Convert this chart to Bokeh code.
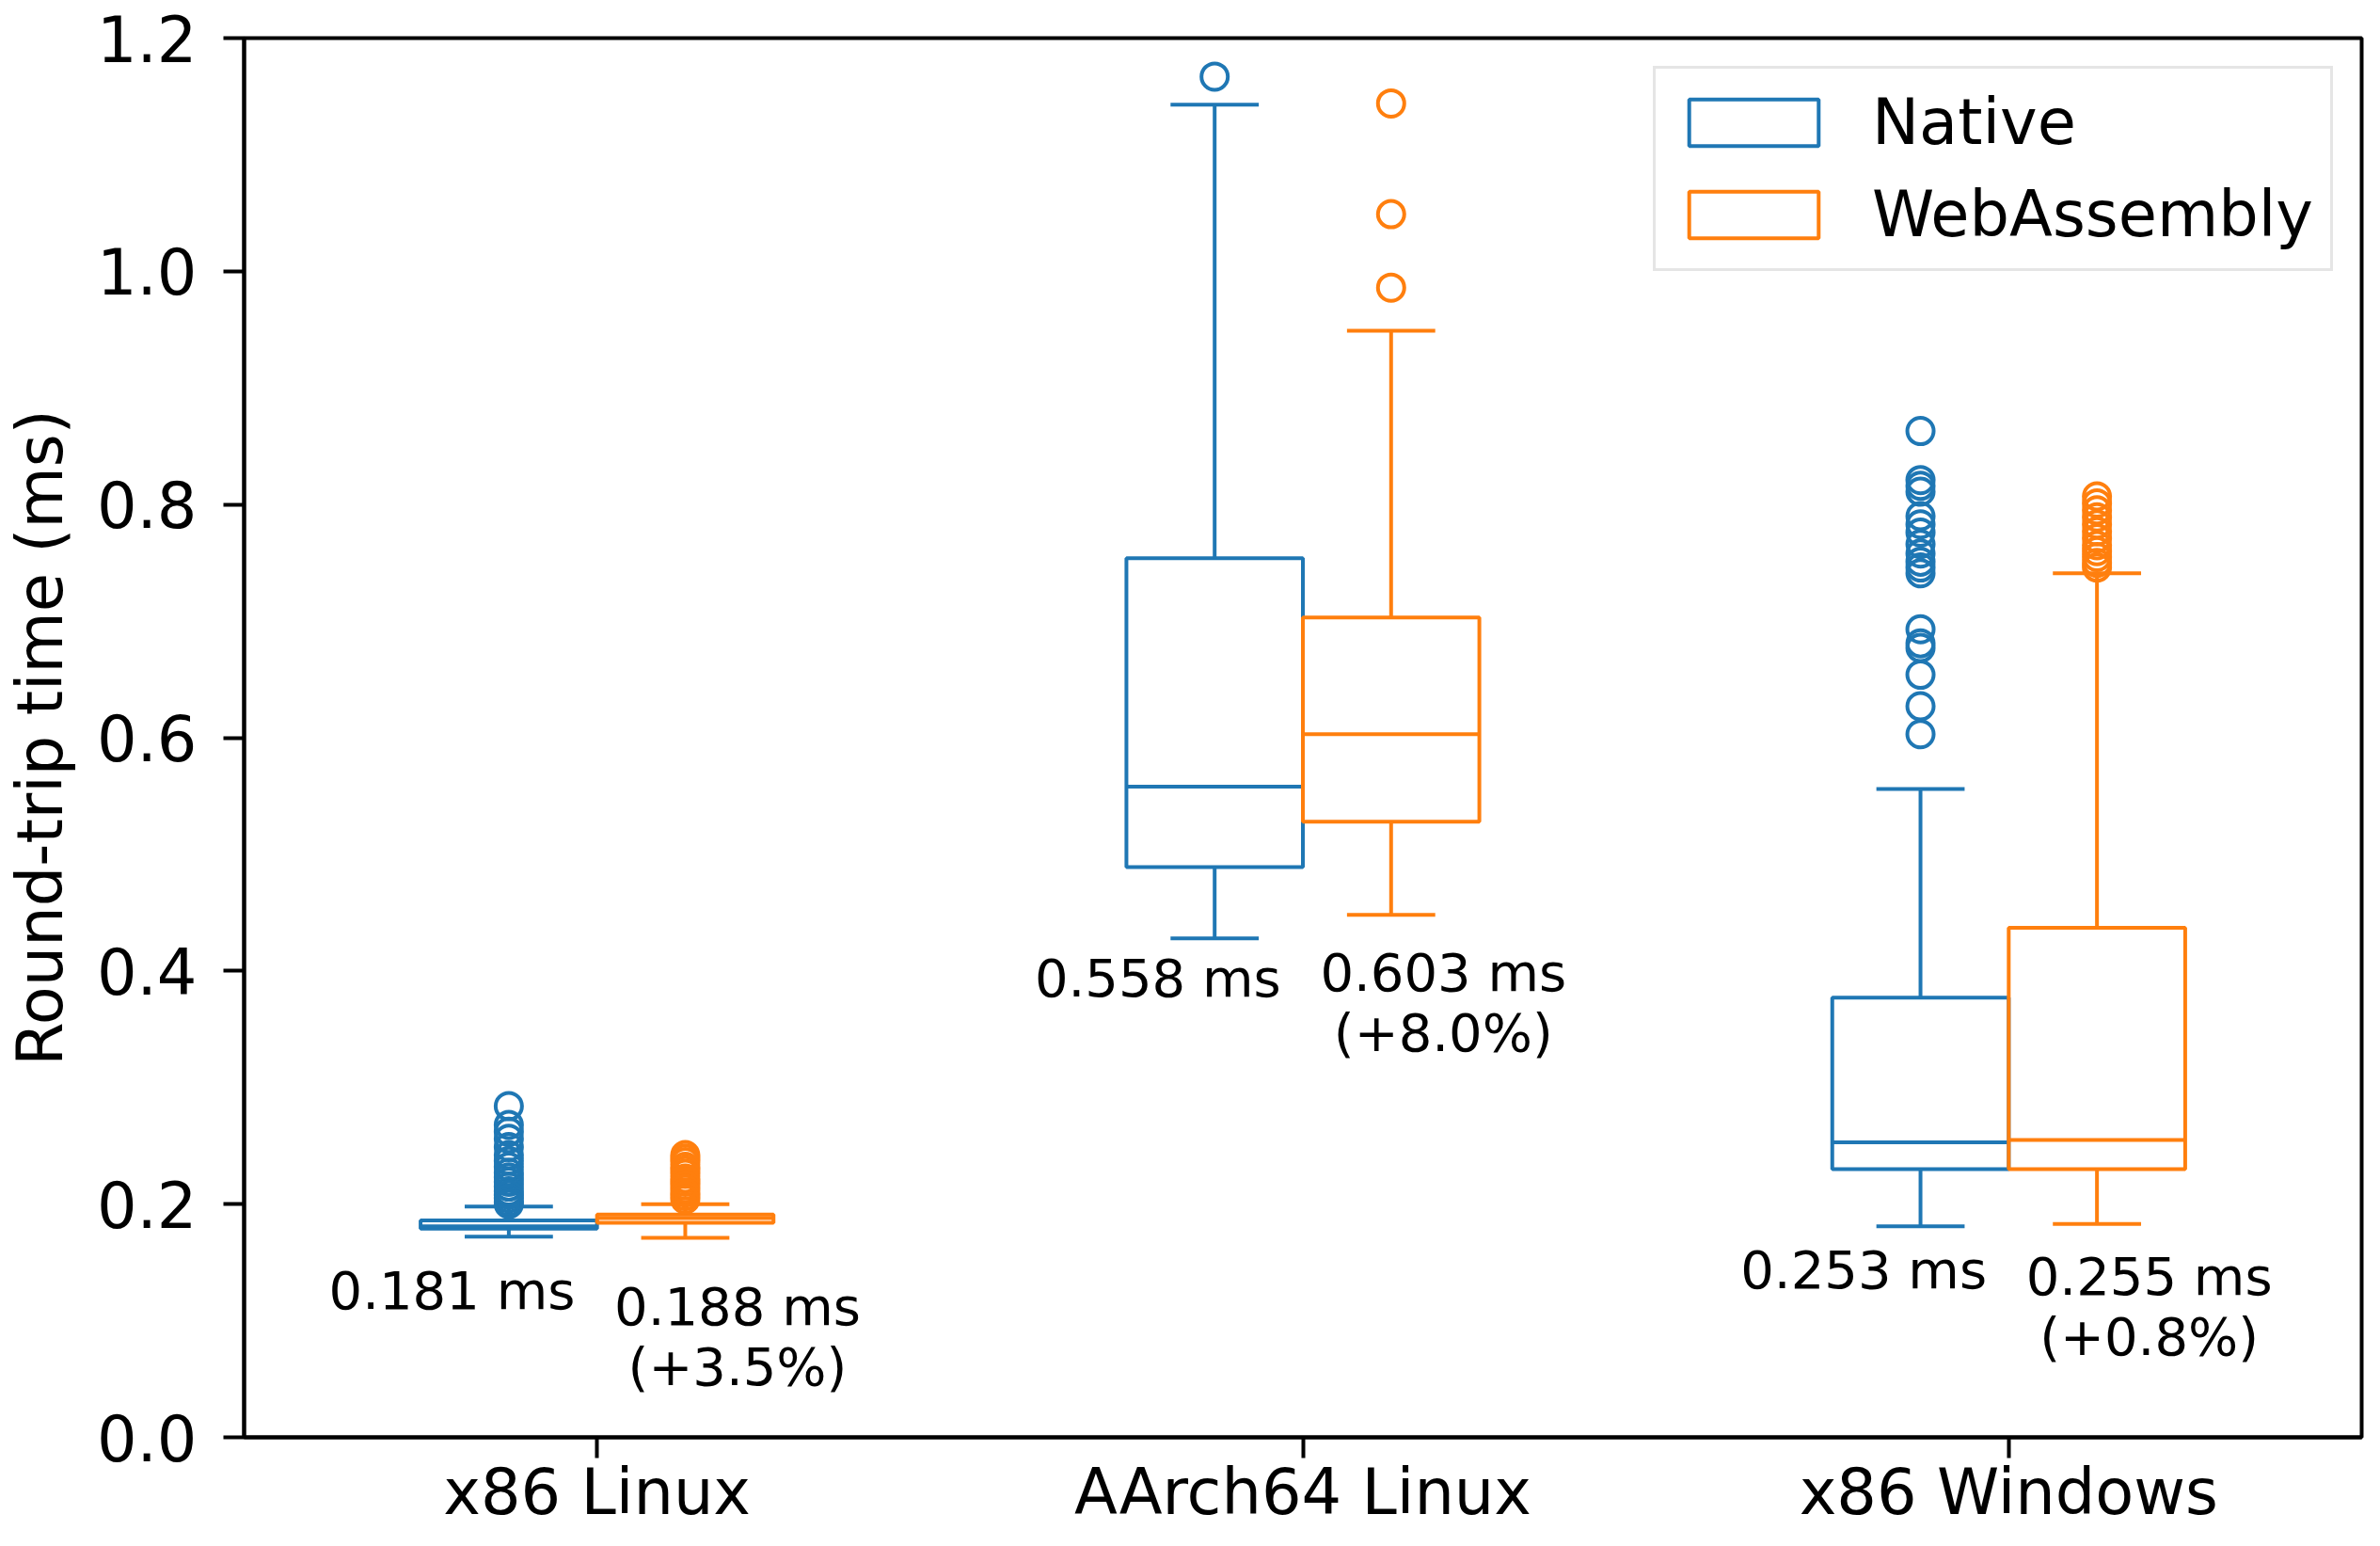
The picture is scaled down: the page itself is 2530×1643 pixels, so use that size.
from bokeh.plotting import figure
from bokeh.models import (ColumnDataSource, FactorRange, FixedTicker,
                          PrintfTickFormatter, Legend, LegendItem)
from bokeh.transform import dodge
from bokeh.core.properties import value
from bokeh.embed import file_html
from bokeh.resources import INLINE

# ---------------- data ----------------
platforms = ["x86 Linux", "AArch64 Linux", "x86 Windows"]
series_names = ["Native", "WebAssembly"]

native_whislo = [0.172, 0.428, 0.181]
native_q1     = [0.179, 0.489, 0.230]
native_median = [0.181, 0.558, 0.253]
native_q3     = [0.186, 0.754, 0.377]
native_whishi = [0.198, 1.143, 0.556]

wasm_whislo = [0.171, 0.448, 0.183]
wasm_q1     = [0.184, 0.528, 0.230]
wasm_median = [0.188, 0.603, 0.255]
wasm_q3     = [0.191, 0.703, 0.437]
wasm_whishi = [0.200, 0.949, 0.741]

native_outliers_x86_linux = [0.284, 0.268, 0.262, 0.256, 0.249, 0.242, 0.237, 0.232,
                             0.227, 0.223, 0.219, 0.215, 0.211, 0.208, 0.205, 0.202, 0.200]
native_outliers_aarch64_linux = [1.167]
native_outliers_x86_windows = [0.863, 0.821, 0.816, 0.811, 0.790, 0.783, 0.776, 0.766,
                               0.758, 0.751, 0.746, 0.741, 0.693, 0.681, 0.677, 0.654,
                               0.627, 0.603]

wasm_outliers_x86_linux = [0.242, 0.239, 0.236, 0.232, 0.229, 0.226, 0.222, 0.219,
                           0.216, 0.213, 0.210, 0.207, 0.204]
wasm_outliers_aarch64_linux = [1.144, 1.049, 0.986]
wasm_outliers_x86_windows = [0.807, 0.801, 0.795, 0.789, 0.783, 0.777, 0.771, 0.765,
                             0.760, 0.755, 0.750, 0.746]

wasm_overhead_pct = [3.5, 8.0, 0.8]

# vertical anchor (data units) of the median annotations
native_note_y = [0.126, 0.394, 0.144]
wasm_note_y = [0.112, 0.399, 0.138]

# ---------------- styling ----------------
BLUE = "#1f77b4"
ORANGE = "#ff7f0e"
FONT = "DejaVu Sans"
BIG = "67px"
SMALL = "56px"
LW = 4
BOX_W = 0.25
OFF = 0.125
CAP = 0.125

p = figure(x_range=FactorRange(*platforms), y_range=(0, 1.2),
           width=2514, height=1627, output_backend="svg", toolbar_location=None,
           min_border_left=250, min_border_right=4, min_border_top=40,
           min_border_bottom=90)
p.xgrid.visible = False
p.ygrid.visible = False
p.outline_line_color = "black"
p.outline_line_width = LW
p.outline_line_alpha = 1.0
p.background_fill_color = "white"
p.border_fill_color = "white"

for ax in (p.xaxis[0], p.yaxis[0]):
    ax.axis_line_width = LW
    ax.axis_line_color = "black"
    ax.major_tick_line_width = LW
    ax.major_tick_line_color = "black"
    ax.major_tick_out = 22
    ax.major_tick_in = 0
    ax.minor_tick_line_color = None
    ax.major_label_text_font = FONT
    ax.major_label_text_font_size = BIG
    ax.major_label_text_color = "black"
    ax.axis_label_text_font = FONT
    ax.axis_label_text_font_size = BIG
    ax.axis_label_text_font_style = "normal"
    ax.axis_label_text_color = "black"

p.xaxis.major_label_standoff = -3
p.yaxis.major_label_standoff = 28
p.yaxis.ticker = FixedTicker(ticks=[0.0, 0.2, 0.4, 0.6, 0.8, 1.0, 1.2])
p.yaxis.formatter = PrintfTickFormatter(format="%.1f")
p.yaxis.axis_label = "Round-trip time (ms)"
p.yaxis.axis_label_standoff = 18


def draw_series(lo, q1, med, q3, hi, outliers, shift, color):
    src = ColumnDataSource(dict(platform=platforms, lo=lo, q1=q1, med=med, q3=q3, hi=hi))
    xc = dodge("platform", shift, range=p.x_range)
    xl = dodge("platform", shift - BOX_W / 2, range=p.x_range)
    xr = dodge("platform", shift + BOX_W / 2, range=p.x_range)
    cl = dodge("platform", shift - CAP / 2, range=p.x_range)
    cr = dodge("platform", shift + CAP / 2, range=p.x_range)
    box = p.vbar(x=xc, width=BOX_W, top="q3", bottom="q1", source=src,
                 fill_color=None, line_color=color, line_width=LW)
    p.segment(x0=xc, y0="q3", x1=xc, y1="hi", source=src, line_color=color, line_width=LW)
    p.segment(x0=xc, y0="q1", x1=xc, y1="lo", source=src, line_color=color, line_width=LW)
    p.segment(x0=cl, y0="hi", x1=cr, y1="hi", source=src, line_color=color, line_width=LW)
    p.segment(x0=cl, y0="lo", x1=cr, y1="lo", source=src, line_color=color, line_width=LW)
    p.segment(x0=xl, y0="med", x1=xr, y1="med", source=src, line_color=color, line_width=LW)
    ox, oy = [], []
    for plat, vals in zip(platforms, outliers):
        ox += [plat] * len(vals)
        oy += vals
    osrc = ColumnDataSource(dict(platform=ox, y=oy))
    p.scatter(x=dodge("platform", shift, range=p.x_range), y="y", source=osrc,
              marker="circle", size=28, fill_color=None, line_color=color, line_width=LW)
    return box


box_native = draw_series(native_whislo, native_q1, native_median, native_q3, native_whishi,
                         [native_outliers_x86_linux, native_outliers_aarch64_linux,
                          native_outliers_x86_windows], -OFF, BLUE)
box_wasm = draw_series(wasm_whislo, wasm_q1, wasm_median, wasm_q3, wasm_whishi,
                       [wasm_outliers_x86_linux, wasm_outliers_aarch64_linux,
                        wasm_outliers_x86_windows], OFF, ORANGE)

# ---------------- median annotations ----------------
nsrc = ColumnDataSource(dict(platform=platforms, y=native_note_y,
                             txt=[f"{m:.3f} ms" for m in native_median]))
p.text(x=dodge("platform", -0.031, range=p.x_range), y="y", text="txt", source=nsrc,
       text_align="right", text_baseline="middle", text_font=value(FONT),
       text_font_size=SMALL, text_color="black")

wsrc = ColumnDataSource(dict(platform=platforms, y=wasm_note_y,
                             txt=[f"{m:.3f} ms" for m in wasm_median],
                             pct=[f"(+{v:.1f}%)" for v in wasm_overhead_pct]))
p.text(x=dodge("platform", 0.199, range=p.x_range), y="y", text="txt", source=wsrc,
       text_align="center", text_baseline="middle", text_font=value(FONT),
       text_font_size=SMALL, text_color="black")
p.text(x=dodge("platform", 0.199, range=p.x_range), y="y", text="pct", source=wsrc,
       y_offset=64, text_align="center", text_baseline="middle", text_font=value(FONT),
       text_font_size=SMALL, text_color="black")

# ---------------- legend ----------------
legend = Legend(items=[LegendItem(label=series_names[0], renderers=[box_native]),
                       LegendItem(label=series_names[1], renderers=[box_wasm])],
                location="top_right")
legend.label_text_font = FONT
legend.label_text_font_size = BIG
legend.label_text_color = "black"
legend.glyph_width = 172
legend.glyph_height = 62
legend.label_standoff = 40
legend.padding = 18
legend.spacing = 20
legend.margin = 30
legend.border_line_color = "#cccccc"
legend.border_line_width = 3
legend.background_fill_color = "white"
legend.background_fill_alpha = 0.8
p.add_layout(legend)

open("out.html", "w").write(file_html(p, INLINE))
